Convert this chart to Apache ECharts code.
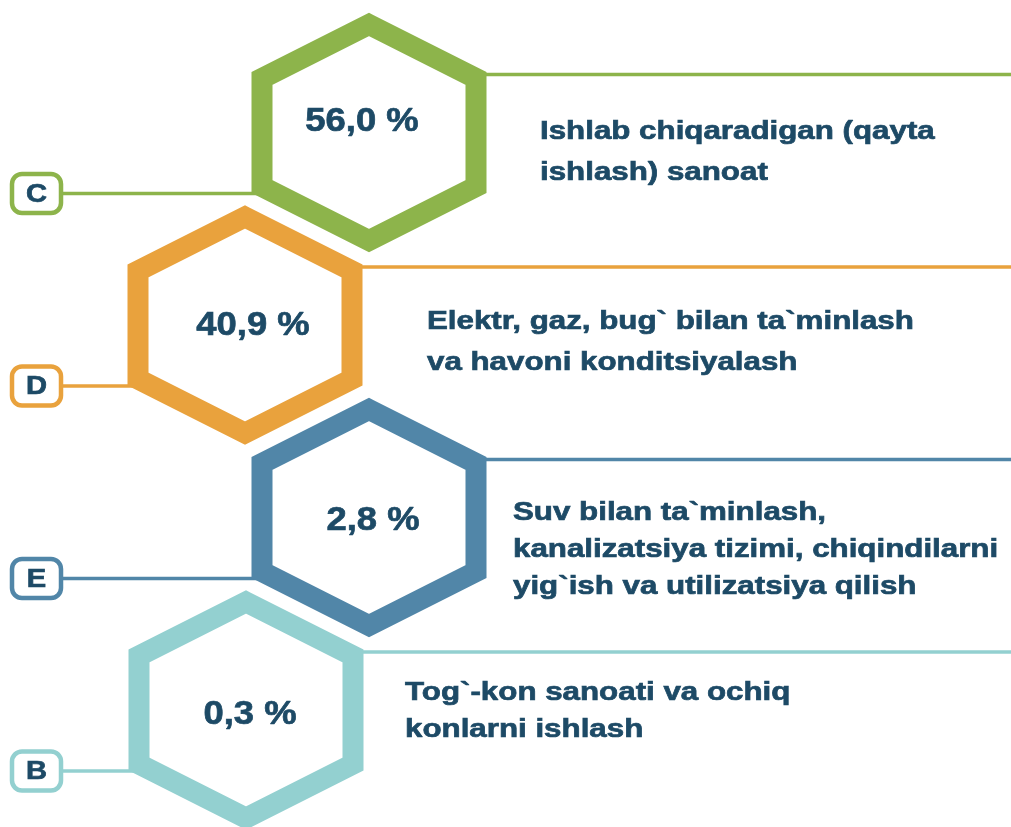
<!DOCTYPE html>
<html>
<head>
<meta charset="utf-8">
<script src="https://cdn.jsdelivr.net/npm/echarts@6/dist/echarts.min.js"></script>
<style>
  html, body { margin: 0; padding: 0; background: #fff; }
  #chartContainer { width: 1011px; height: 827px; }
</style>
</head>
<body>
<div id="chartContainer"></div>
<script>
// data
const codes = ['C', 'D', 'E', 'B'];
const shares = [56.0, 40.9, 2.8, 0.3];
const sections = [
  'Ishlab chiqaradigan (qayta\nishlash) sanoat',
  'Elektr, gaz, bug` bilan ta`minlash\nva havoni konditsiyalash',
  'Suv bilan ta`minlash,\nkanalizatsiya tizimi, chiqindilarni\nyig`ish va utilizatsiya qilish',
  'Tog`-kon sanoati va ochiq\nkonlarni ishlash'
];

// layout / style
const colors = ['#8db44b', '#e9a23d', '#5186a8', '#93d0d0'];
const textColor = '#1d4a66';
const FONT = '"Liberation Sans", Arial, sans-serif';
const HEX_X = [369, 245, 369, 246];
const PCT_OFF = [[-7, -11], [8, 1], [4, 3], [4, 5]];
const DESC_OFF = [[171, 20], [182, 17], [144, 32], [159, 1]];
const DESC_LH = [41, 41, 37, 37];

var myChart = echarts.init(document.getElementById('chartContainer'), null, { renderer: 'canvas' });

function fmt(v) {
  return v.toFixed(1).replace('.', ',') + ' %';
}

// bold text, a little heavier like the print original
function txt(text, size, align, extra) {
  return Object.assign({
    text: text, fill: textColor, fontFamily: FONT, fontWeight: 'bold',
    fontSize: size, align: align, verticalAlign: 'middle',
    stroke: textColor, lineWidth: 0.7
  }, extra || {});
}

function renderItem(params, api) {
  const i = params.dataIndex;
  const cy = api.coord([0, api.value(1)])[1];
  const cx = HEX_X[i];
  const col = colors[i];
  const leftY = cy + 61;
  const rightY = cy - 58;
  return {
    type: 'group',
    children: [
      {
        type: 'line',
        shape: { x1: 61, y1: leftY, x2: cx - 100, y2: leftY },
        style: { stroke: col, lineWidth: 3.5 }
      },
      {
        type: 'line',
        shape: { x1: cx + 100, y1: rightY, x2: 1011, y2: rightY },
        style: { stroke: col, lineWidth: 3.5 }
      },
      {
        type: 'polygon',
        shape: {
          points: [
            [cx, cy - 108], [cx + 107, cy - 54], [cx + 107, cy + 54],
            [cx, cy + 108], [cx - 107, cy + 54], [cx - 107, cy - 54]
          ]
        },
        style: { fill: '#fff', stroke: col, lineWidth: 21, lineJoin: 'miter' }
      },
      {
        type: 'rect',
        shape: { x: 12, y: leftY - 19.5, width: 49, height: 39, r: 10 },
        style: { fill: '#fff', stroke: col, lineWidth: 4.5 }
      },
      {
        type: 'text',
        x: 36.5, y: leftY + 1, scaleX: 1.12,
        style: txt(codes[i], 26, 'center')
      },
      {
        type: 'text',
        x: cx + PCT_OFF[i][0], y: cy + PCT_OFF[i][1], scaleX: 1.07,
        style: txt(fmt(api.value(0)), 34, 'center')
      },
      {
        type: 'text',
        x: cx + DESC_OFF[i][0], y: cy + DESC_OFF[i][1], scaleX: 1.19,
        style: txt(sections[i], 26.3, 'left', { lineHeight: DESC_LH[i] })
      }
    ]
  };
}

myChart.setOption({
  animation: false,
  grid: { left: 0, right: 0, top: 132.5, bottom: 117 },
  xAxis: { type: 'value', min: 0, max: 100, show: false },
  yAxis: { type: 'category', data: codes, inverse: true, boundaryGap: false, show: false },
  series: [{
    type: 'custom',
    clip: false,
    renderItem: renderItem,
    encode: { x: 0, y: 1 },
    data: shares.map((v, i) => [v, i])
  }]
});
</script>
</body>
</html>
